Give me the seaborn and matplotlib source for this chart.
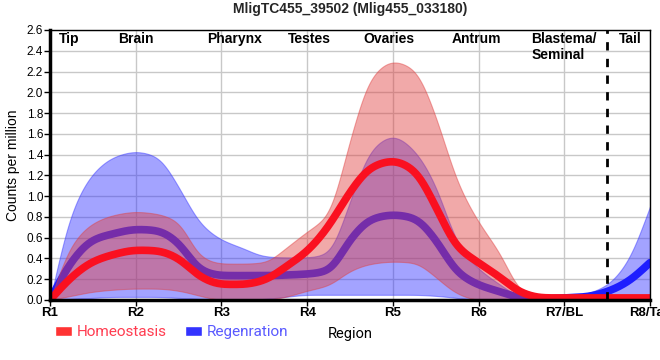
import numpy as np
import pandas as pd
import seaborn as sns
import matplotlib.pyplot as plt
from matplotlib.patches import Patch

# region positions (R1..R8 -> 0..7), values read on a quarter-region grid
pos = np.arange(0, 7.01, 0.25)
tick_labels = ["R1", "R2", "R3", "R4", "R5", "R6", "R7/BL", "R8/Tail"]
regions = ["Tip", "Brain", "Pharynx", "Testes", "Ovaries", "Antrum", "Blastema/\nSeminal", "Tail"]
region_x = [0.22, 1.0, 2.15, 3.03, 3.95, 4.97, 6.0, 6.77]

homeo_mean = [0, 0.22, 0.37, 0.44, 0.48, 0.475, 0.40, 0.225, 0.15, 0.15, 0.19, 0.32, 0.47,
              0.71, 1.04, 1.28, 1.34, 1.25, 0.90, 0.51, 0.36, 0.22, 0.07, 0.02, 0.02,
              0.02, 0.02, 0.02, 0.02]
homeo_hi = [0, 0.53, 0.74, 0.82, 0.85, 0.83, 0.75, 0.42, 0.35, 0.35, 0.36, 0.50, 0.66,
            0.82, 1.54, 2.15, 2.30, 2.22, 1.77, 1.14, 0.75, 0.45, 0.08, 0.02, 0.02,
            0.02, 0.02, 0.02, 0.02]
homeo_lo = [0, 0.04, 0.08, 0.10, 0.11, 0.11, 0.09, 0.04, 0.0, 0.0, 0.0, 0.03, 0.09,
            0.14, 0.28, 0.35, 0.37, 0.36, 0.22, 0.06, 0.0, 0.0, 0.0, 0.0, 0.0,
            0.0, 0.0, 0.0, 0.0]
regen_mean = [0, 0.37, 0.58, 0.64, 0.68, 0.67, 0.55, 0.29, 0.235, 0.235, 0.235, 0.24, 0.25,
              0.28, 0.58, 0.78, 0.82, 0.79, 0.58, 0.27, 0.145, 0.08, 0.02, 0.01, 0.02,
              0.03, 0.08, 0.18, 0.36]
regen_hi = [0, 0.84, 1.22, 1.38, 1.43, 1.38, 1.09, 0.74, 0.58, 0.50, 0.42, 0.41, 0.41,
            0.45, 0.95, 1.45, 1.58, 1.44, 1.10, 0.55, 0.30, 0.15, 0.03, 0.02, 0.03,
            0.06, 0.145, 0.385, 0.90]
regen_lo = [0, 0.01, 0.02, 0.03, 0.03, 0.03, 0.02, 0.01, 0.0, 0.0, 0.01, 0.03, 0.05,
            0.05, 0.05, 0.05, 0.05, 0.05, 0.04, 0.02, 0.0, 0.0, 0.0, 0.0, 0.0,
            0.0, 0.0, 0.0, 0.0]


def pchip(x, y, xs):
    x = np.asarray(x, float); y = np.asarray(y, float)
    h = np.diff(x); d = np.diff(y) / h
    m = np.zeros_like(y)
    m[0], m[-1] = d[0], d[-1]
    for k in range(1, len(x) - 1):
        if d[k - 1] * d[k] > 0:
            w1 = 2 * h[k] + h[k - 1]; w2 = h[k] + 2 * h[k - 1]
            m[k] = (w1 + w2) / (w1 / d[k - 1] + w2 / d[k])
    i = np.clip(np.searchsorted(x, xs) - 1, 0, len(x) - 2)
    t = (xs - x[i]) / h[i]
    h00 = 2 * t**3 - 3 * t**2 + 1; h10 = t**3 - 2 * t**2 + t
    h01 = -2 * t**3 + 3 * t**2; h11 = t**3 - t**2
    return h00 * y[i] + h10 * h[i] * m[i] + h01 * y[i + 1] + h11 * h[i] * m[i + 1]


xs = np.linspace(0, 7, 701)


def curve(vals, sigma=8):
    # pchip through the read values, then a light gaussian smoothing
    y = pchip(pos, vals, xs)
    n = 4 * sigma
    left = 2 * y[0] - y[1:n + 1][::-1]
    right = 2 * y[-1] - y[-n - 1:-1][::-1]
    yp = np.concatenate([left, y, right])
    k = np.exp(-0.5 * (np.arange(-n, n + 1) / sigma) ** 2)
    return np.convolve(yp, k / k.sum(), mode="valid")


red, blue = "#fa1020", "#1e1eff"

sns.set_theme(style="whitegrid")
plt.rcParams["font.family"] = ["Liberation Sans", "DejaVu Sans"]
fig = plt.figure(figsize=(6.6, 3.6), dpi=100)
ax = fig.add_axes([50 / 660, 60 / 360, 600 / 660, 270 / 360])

# regeneration first so the homeostasis band tints its line
ax.fill_between(xs, curve(regen_lo), curve(regen_hi), color="#3333ff", alpha=0.45,
                lw=0.8, edgecolor="#3333ff", zorder=2)
sns.lineplot(x=xs, y=curve(regen_mean), color=blue, lw=5.5, ax=ax, zorder=3)
ax.fill_between(xs, curve(homeo_lo), curve(homeo_hi), color="#e04040", alpha=0.45,
                lw=0.8, edgecolor="#e04040", zorder=4)
sns.lineplot(x=xs, y=curve(homeo_mean), color=red, lw=5.5, ax=ax, zorder=5)

ax.axvline(6.5, color="black", lw=2, ls=(0, (3, 3)), zorder=6)
for x, lab in zip(region_x, regions):
    ax.text(x, 2.58, lab, ha="center", va="top", fontsize=10, fontweight="bold",
            color="black", multialignment="left", zorder=7)

ax.set_xlim(0, 7)
ax.set_ylim(0, 2.6)
ax.set_xticks(range(8))
ax.set_xticklabels(tick_labels, fontsize=9.5, fontweight="bold", color="black")
ax.set_yticks(np.arange(0, 2.61, 0.2))
ax.set_yticklabels([f"{v:.1f}" for v in np.arange(0, 2.61, 0.2)], fontsize=8.5, color="black")
ax.tick_params(axis="both", length=4, width=1, color="black", pad=1)
ax.tick_params(axis="x", bottom=True)
ax.tick_params(axis="y", left=True)
ax.grid(True, color="#c8c8c8", lw=1)
ax.set_axisbelow(True)
ax.set_facecolor("white")
for s in ["top", "right"]:
    ax.spines[s].set_color("black"); ax.spines[s].set_linewidth(1)
for s in ["left", "bottom"]:
    ax.spines[s].set_color("black"); ax.spines[s].set_linewidth(2.5)
for s in ax.spines.values():
    s.set_zorder(8)
ax.set_xlabel("Region", fontsize=10.5, family="Roboto", labelpad=6, color="black")
ax.set_ylabel("Counts per million", fontsize=10, labelpad=5, color="black")
ax.set_title("MligTC455_39502 (Mlig455_033180)", fontsize=10, fontweight="bold", pad=12)

handles = [Patch(facecolor="#ff3333"), Patch(facecolor="#3333ff")]
fig.legend(handles, ["Homeostasis", "Regenration"], loc="center left",
           bbox_to_anchor=(0.063, 0.077), ncol=2, frameon=False,
           prop={"family": "Roboto", "size": 11}, labelcolor=["#ff3c50", "#5a5aff"],
           handlelength=1.1, handleheight=0.6, handletextpad=0.3, columnspacing=1.2)

fig.savefig("out.png", dpi=100)
